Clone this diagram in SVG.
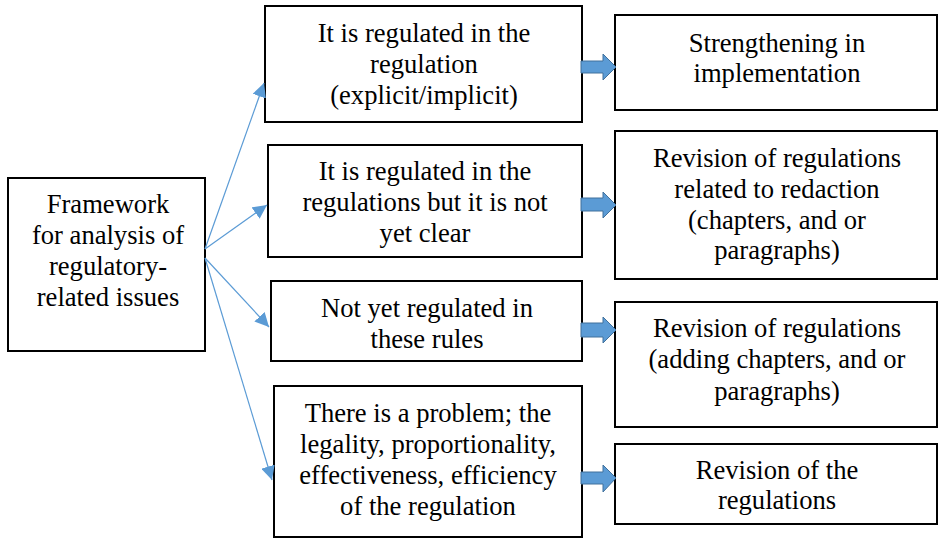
<svg xmlns="http://www.w3.org/2000/svg" width="939" height="538" viewBox="0 0 939 538">
<style>
.box{fill:#fff;stroke:#000;stroke-width:2}
.ln{stroke:#5B9BD5;stroke-width:1.2;fill:none}
.blk{fill:#5B9BD5;stroke:#41719C;stroke-width:1}
.t{font-family:'Liberation Serif','Times New Roman',serif;font-size:26.6px;text-anchor:middle;fill:#000}
</style>
<defs>
<marker id="ah" viewBox="0 0 10 10" refX="10" refY="5" markerWidth="14" markerHeight="14" markerUnits="userSpaceOnUse" orient="auto">
<path d="M0,0 L10,5 L0,10 z" fill="#5B9BD5"/>
</marker>
</defs>
<rect width="939" height="538" fill="#fff"/>
<g class="t">
<g id="n0"><rect class="box" x="8" y="178" width="197" height="173"/>
<text x="108" y="213">Framework</text><text x="108" y="244">for analysis of</text><text x="108" y="275">regulatory-</text><text x="108" y="306">related issues</text></g>
<g id="n1"><rect class="box" x="265" y="6" width="317" height="116"/>
<text x="424" y="42">It is regulated in the</text><text x="424" y="73">regulation</text><text x="424" y="104">(explicit/implicit)</text></g>
<g id="n2"><rect class="box" x="268" y="145" width="314" height="112"/>
<text x="425" y="180">It is regulated in the</text><text x="425" y="211">regulations but it is not</text><text x="425" y="242">yet clear</text></g>
<g id="n3"><rect class="box" x="271" y="281" width="311" height="80"/>
<text x="427" y="317">Not yet regulated in</text><text x="427" y="348">these rules</text></g>
<g id="n4"><rect class="box" x="274" y="386" width="308" height="151"/>
<text x="428" y="422">There is a problem; the</text><text x="428" y="453">legality, proportionality,</text><text x="428" y="484">effectiveness, efficiency</text><text x="428" y="515">of the regulation</text></g>
<g id="r1"><rect class="box" x="615" y="15" width="322" height="95"/>
<text x="777" y="52">Strengthening in</text><text x="777" y="82">implementation</text></g>
<g id="r2"><rect class="box" x="615" y="131" width="322" height="148"/>
<text x="777" y="167">Revision of regulations</text><text x="777" y="198">related to redaction</text><text x="777" y="229">(chapters, and or</text><text x="777" y="259">paragraphs)</text></g>
<g id="r3"><rect class="box" x="615" y="302" width="322" height="125"/>
<text x="777" y="337">Revision of regulations</text><text x="777" y="368">(adding chapters, and or</text><text x="777" y="400">paragraphs)</text></g>
<g id="r4"><rect class="box" x="615" y="444" width="322" height="80"/>
<text x="777" y="479">Revision of the</text><text x="777" y="509">regulations</text></g>
</g>
<g id="connectors">
<line class="ln" x1="205" y1="249" x2="264" y2="83" marker-end="url(#ah)"/>
<line class="ln" x1="205" y1="249" x2="267" y2="205" marker-end="url(#ah)"/>
<line class="ln" x1="205" y1="258" x2="269" y2="327" marker-end="url(#ah)"/>
<line class="ln" x1="205" y1="258" x2="272" y2="480" marker-end="url(#ah)"/>
<path class="blk" d="M581,61 L603,61 L603,54 L616,67 L603,80 L603,73 L581,73 Z"/>
<path class="blk" d="M581,198 L603,198 L603,192 L616,205 L603,218 L603,211 L581,211 Z"/>
<path class="blk" d="M581,323 L603,323 L603,317 L616,330 L603,343 L603,337 L581,337 Z"/>
<path class="blk" d="M581,472 L603,472 L603,465 L616,478 L603,492 L603,484 L581,484 Z"/>
</g>
</svg>
